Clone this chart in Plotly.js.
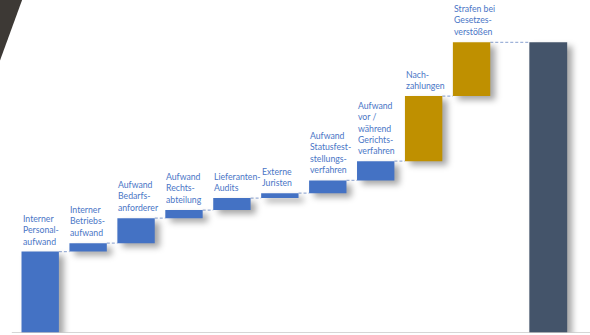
<!DOCTYPE html>
<html>
<head>
<meta charset="utf-8">
<script src="https://cdn.plot.ly/plotly-3.0.1.min.js"></script>
<style>
html,body{margin:0;padding:0;background:#fff;}
#chart{width:590px;height:335px;}
.barlayer .point path{filter:drop-shadow(5px 4px 3px rgba(0,0,0,0.35));}
</style>
</head>
<body>
<div id="chart"></div>
<script>
// Data
const categories = [
  "Interner Personalaufwand","Interner Betriebsaufwand","Aufwand Bedarfsanforderer",
  "Aufwand Rechtsabteilung","Lieferanten-Audits","Externe Juristen",
  "Aufwand Statusfeststellungsverfahren","Aufwand vor / während Gerichtsverfahren",
  "Nachzahlungen","Strafen bei Gesetzesverstößen"
];
const labels = [
  "Interner<br>Personal-<br>aufwand",
  "Interner<br>Betriebs-<br>aufwand",
  "Aufwand<br>Bedarfs-<br>anforderer",
  "Aufwand<br>Rechts-<br>abteilung",
  "Lieferanten-<br>Audits",
  "Externe<br>Juristen",
  "Aufwand<br>Statusfest-<br>stellungs-<br>verfahren",
  "Aufwand<br>vor /<br>während<br>Gerichts-<br>verfahren",
  "Nach-<br>zahlungen",
  "Strafen bei<br>Gesetzes-<br>verstößen"
];
const values = [28, 2.9, 8.6, 2.8, 4.1, 1.7, 4.4, 6.6, 22.4, 18.5];
const groups = ["intern","intern","intern","intern","intern","intern","intern","intern","extern","extern"];
const totalLabel = "Gesamt";

// Derived
const bases = [], tops = [];
let run = 0;
values.forEach(v => { bases.push(run); run += v; tops.push(run); });
const total = run;

const W = 0.78;          // bar width (category units)
const TOTAL_SHIFT = 0.6; // total bar shifted right from its slot
const colors = {intern:"#4472C4", extern:"#BF9000", total:"#44546A"};

function pick(g){
  const idx = groups.map((x,i)=>x===g?i:-1).filter(i=>i>=0);
  return {
    type:"bar",
    x: idx.map(i=>categories[i]),
    y: idx.map(i=>values[i]),
    base: idx.map(i=>bases[i]),
    width: W,
    marker:{color:colors[g], line:{width:0}},
    hoverinfo:"skip",
    showlegend:false
  };
}

const allCats = categories.concat([totalLabel]);
const traces = [
  pick("intern"),
  pick("extern"),
  {type:"bar", x:[totalLabel], y:[total], base:[0], width:0.79, offset:-0.395+TOTAL_SHIFT,
   marker:{color:colors.total, line:{width:0}}, hoverinfo:"skip", showlegend:false}
];

const shapes = [];
// decorative dark corner
shapes.push({type:"path", xref:"paper", yref:"paper", layer:"above",
  path:"M -0.01 1.01 L 0.0395 1.01 L -0.01 0.77 Z",
  fillcolor:"#3d3935", line:{width:0}});
// baseline
shapes.push({type:"line", xref:"paper", yref:"y", x0:0.02, x1:1.01, y0:0, y1:0,
  line:{color:"#c8c8c8", width:1.5}, layer:"above"});
// connectors
for(let i=0;i<values.length;i++){
  const x0 = i + W/2;
  const x1 = (i < values.length-1) ? (i+1 - W/2) : (values.length + TOTAL_SHIFT - 0.395);
  shapes.push({type:"line", xref:"x", yref:"y", x0:x0, x1:x1, y0:tops[i], y1:tops[i],
    line:{color:"#9fb3d9", width:1.2, dash:"3px,2px"}, layer:"below"});
}

const annotations = labels.map((t,i)=>({
  x: i - W/2, y: tops[i], xref:"x", yref:"y",
  text:t, showarrow:false, xanchor:"left", yanchor:"bottom", align:"left",
  yshift:3, xshift:-1,
  font:{family:"Lato, 'Liberation Sans', sans-serif", size:8.7, color:"#4a76c6"}
}));

const pxPerUnitX = 47.93, x0px = 40.2;
const layout = {
  width:590, height:335,
  margin:{l:0, r:0, t:0, b:2, pad:0},
  paper_bgcolor:"#ffffff", plot_bgcolor:"#ffffff",
  barmode:"overlay",
  xaxis:{type:"category", categoryorder:"array", categoryarray:allCats,
    range:[-x0px/pxPerUnitX, (590-x0px)/pxPerUnitX],
    showticklabels:false, showgrid:false, zeroline:false, showline:false, ticks:""},
  yaxis:{range:[0, 333/2.907], showticklabels:false, showgrid:false, zeroline:false, showline:false, ticks:""},
  shapes:shapes,
  annotations:annotations
};

Plotly.newPlot("chart", traces, layout, {displayModeBar:false, staticPlot:true});
</script>
</body>
</html>
